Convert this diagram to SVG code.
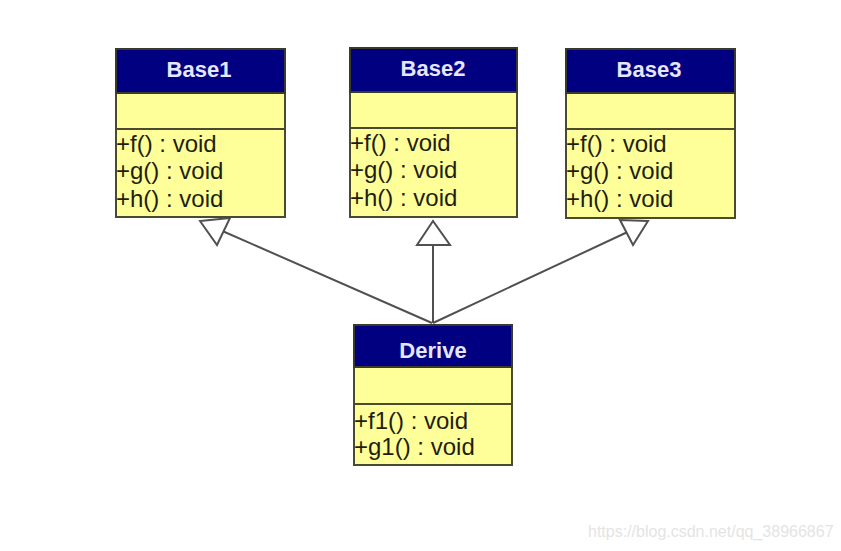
<svg xmlns="http://www.w3.org/2000/svg" width="841" height="551" viewBox="0 0 841 551">
<style>
.hdr{fill:#000080;stroke:#3a3a2a;stroke-width:2}
.body{fill:#ffff99;stroke:#4a4a30;stroke-width:2}
.div{stroke:#4a4a30;stroke-width:2}
.title{font-family:"Liberation Sans",Arial,sans-serif;font-weight:bold;font-size:22px;fill:#e6e6ff;text-anchor:middle}
.op{font-family:"Liberation Sans",Arial,sans-serif;font-size:24px;fill:#1e1e10}
.edge{stroke:#505050;stroke-width:2;fill:none}
.tri{fill:#ffffff;stroke:#505050;stroke-width:2;stroke-linejoin:miter}
.wm{font-family:"Liberation Sans",Arial,sans-serif;font-size:16px;fill:#e4e4e4}
</style>
<rect width="841" height="551" fill="#ffffff"/>
<g id="connectors">
<line class="edge" x1="432" y1="323" x2="223.5" y2="231.5"/>
<polygon class="tri" points="200,221 217,245 230,218"/>
<line class="edge" x1="433" y1="323" x2="433" y2="245"/>
<polygon class="tri" points="433,221 417,245 450,245"/>
<line class="edge" x1="433" y1="323" x2="626.5" y2="232.5"/>
<polygon class="tri" points="648,221 620,220 633,245"/>
</g>
<g id="Base1">
<rect class="body" x="116" y="49" width="169" height="168"/>
<rect class="hdr" x="116" y="49" width="169" height="44"/>
<line class="div" x1="116" y1="129" x2="285" y2="129"/>
<text class="title" x="199" y="77">Base1</text>
<text class="op" x="116" y="152">+f() : void</text>
<text class="op" x="116" y="179">+g() : void</text>
<text class="op" x="116" y="207">+h() : void</text>
</g>
<g id="Base2">
<rect class="body" x="350" y="48" width="167" height="169"/>
<rect class="hdr" x="350" y="48" width="167" height="44"/>
<line class="div" x1="350" y1="128" x2="517" y2="128"/>
<text class="title" x="433" y="76">Base2</text>
<text class="op" x="350" y="151">+f() : void</text>
<text class="op" x="350" y="178">+g() : void</text>
<text class="op" x="350" y="206">+h() : void</text>
</g>
<g id="Base3">
<rect class="body" x="566" y="49" width="169" height="169"/>
<rect class="hdr" x="566" y="49" width="169" height="44"/>
<line class="div" x1="566" y1="129" x2="735" y2="129"/>
<text class="title" x="649" y="77">Base3</text>
<text class="op" x="566" y="152">+f() : void</text>
<text class="op" x="566" y="179">+g() : void</text>
<text class="op" x="566" y="207">+h() : void</text>
</g>
<g id="Derive">
<rect class="body" x="354" y="325" width="158" height="140"/>
<rect class="hdr" x="354" y="325" width="158" height="42"/>
<line class="div" x1="354" y1="404" x2="512" y2="404"/>
<text class="title" x="433" y="358">Derive</text>
<text class="op" x="354" y="429">+f1() : void</text>
<text class="op" x="354" y="455">+g1() : void</text>
</g>
<text class="wm" x="588" y="537">https://blog.csdn.net/qq_38966867</text>
</svg>
